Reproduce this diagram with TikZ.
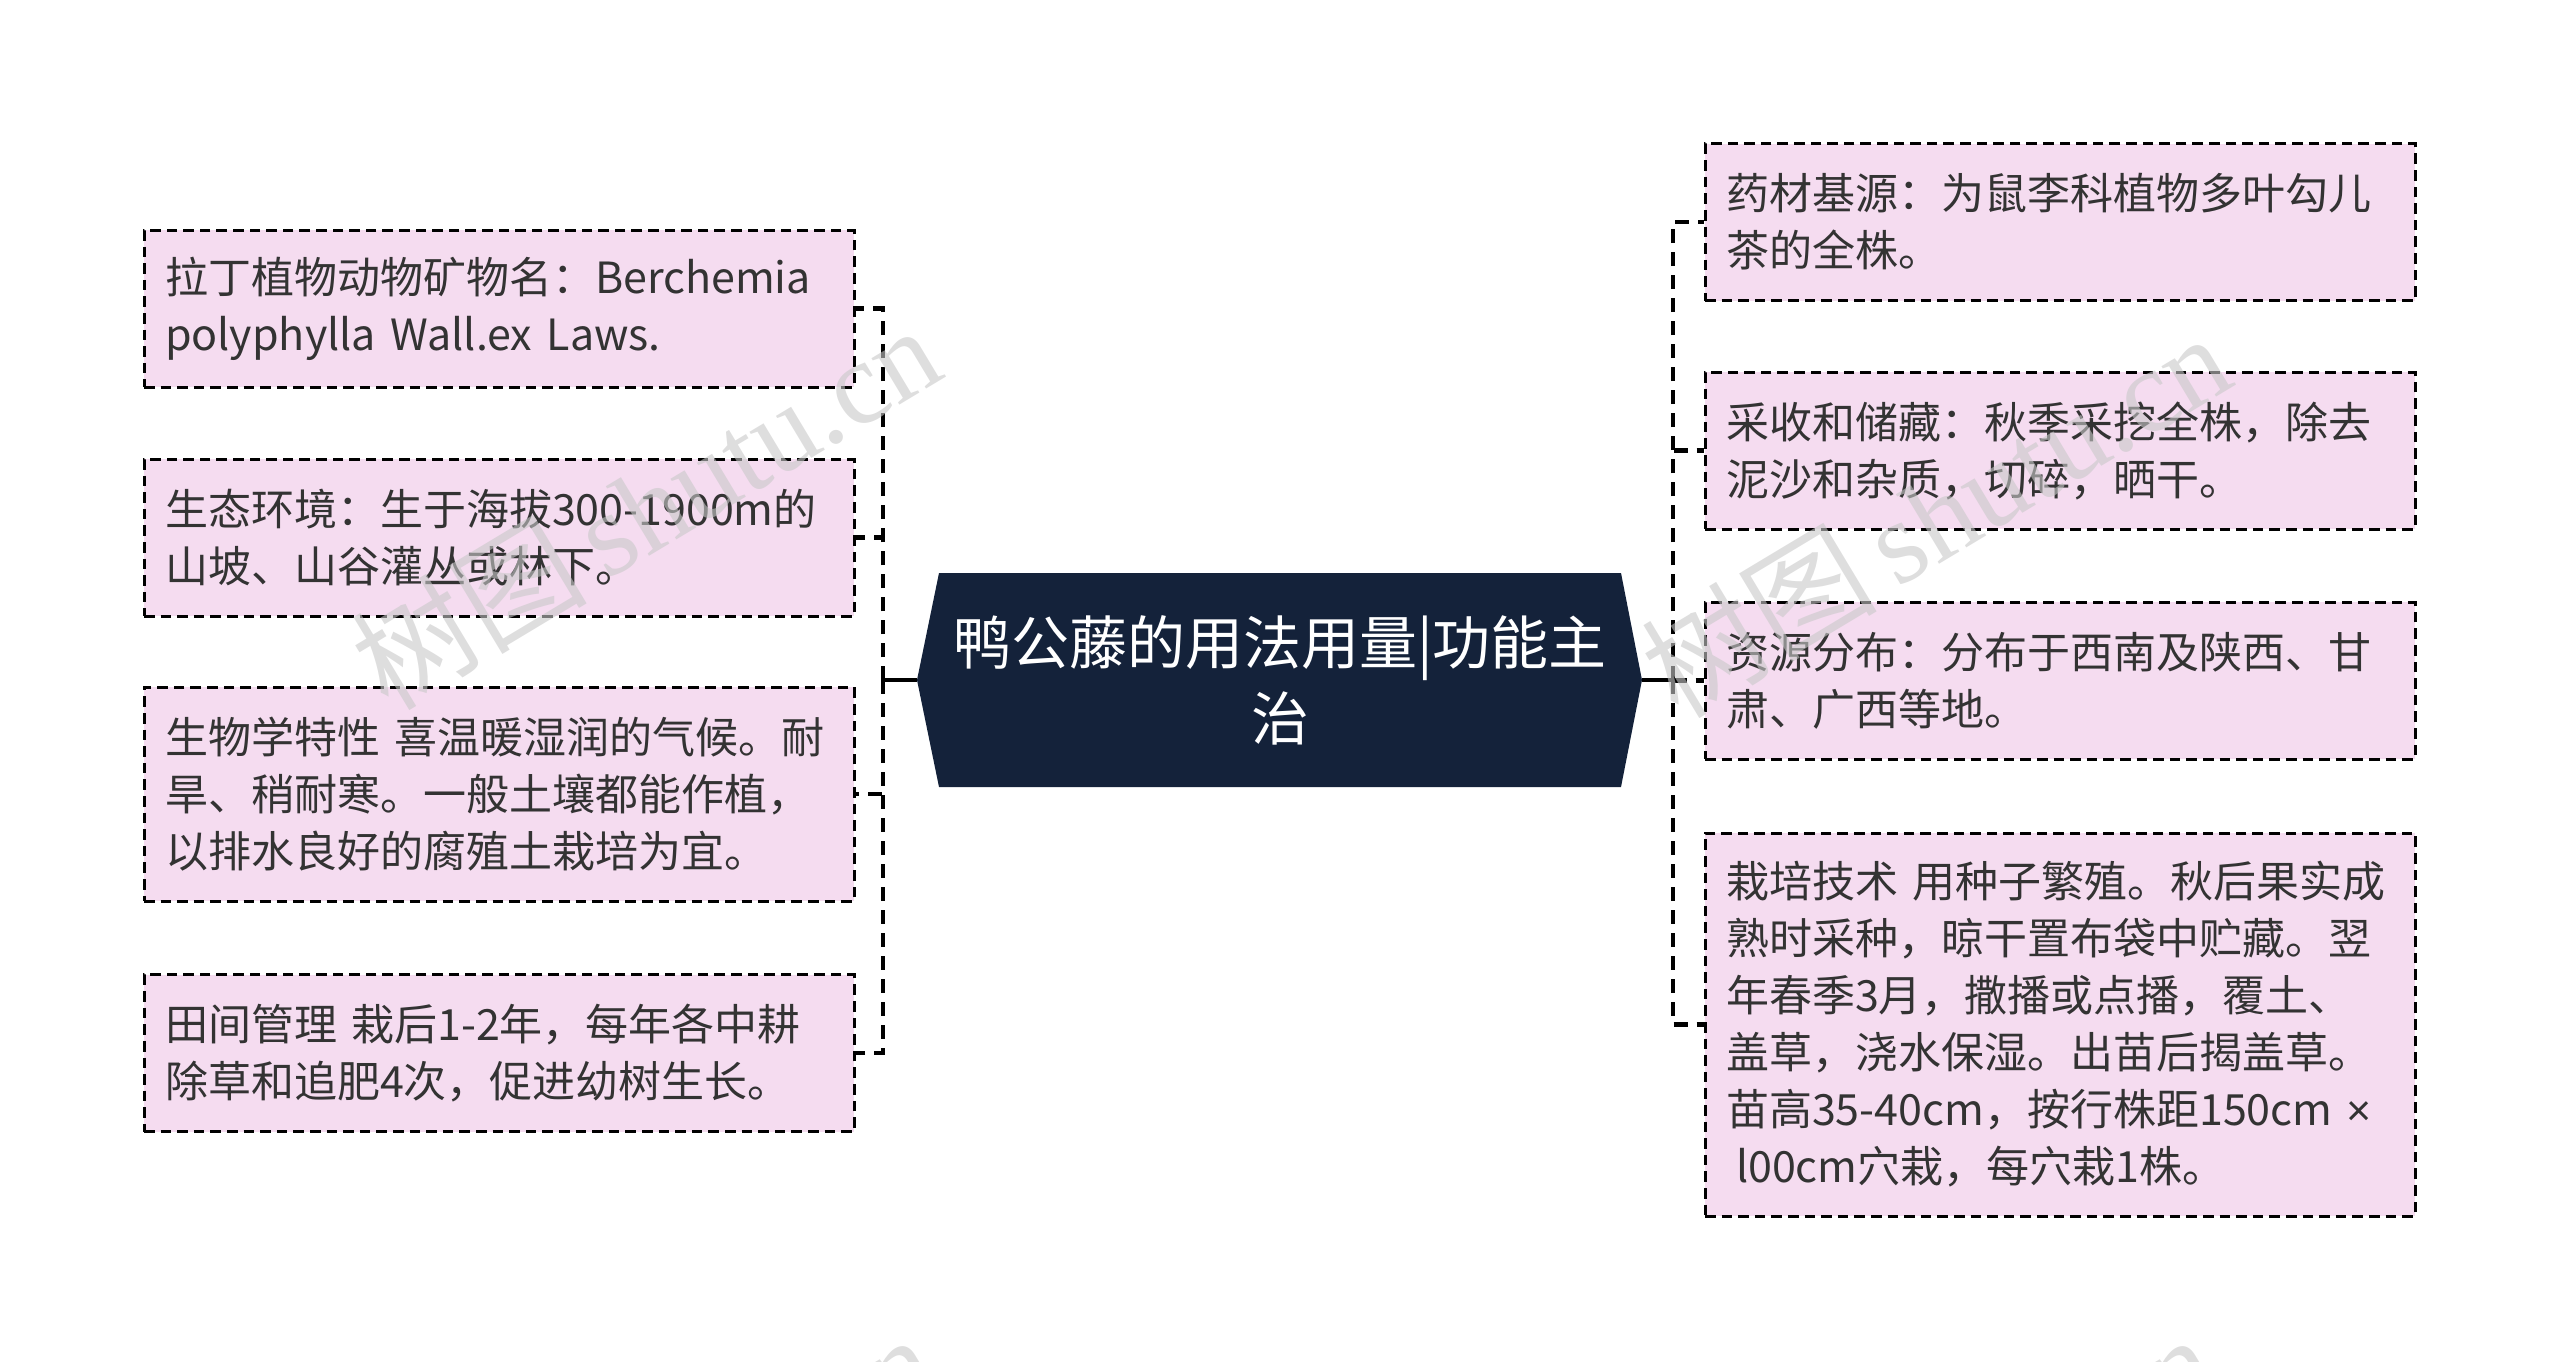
\documentclass[tikz,border=0pt]{standalone}
\usepackage{fontspec}
\setmainfont{Noto Sans CJK SC}
\newfontfamily\wmfont{Liberation Serif}
\newfontfamily\wmcjk{Noto Sans CJK SC}
\newfontfamily\latinsans{Liberation Sans}
\definecolor{boxfill}{HTML}{F5DCF0}
\definecolor{navy}{HTML}{14223A}
\definecolor{txt}{HTML}{333333}
\definecolor{wm}{HTML}{C8C8C8}
\begin{document}
\begin{tikzpicture}[x=0.5pt,y=-0.5pt,
  leaf/.style={draw=black, line width=1.5pt, dash pattern=on 5.3pt off 3pt, fill=boxfill,
    text=txt, font=\fontsize{21.5}{28.5}\selectfont, align=left,
    text width=334pt, inner xsep=10.5pt, inner ysep=0pt, minimum width=355pt},
  h2/.style={minimum height=78.5pt},
  conn/.style={draw=black, line width=2.2pt, dash pattern=on 7pt off 4.5pt},
  wmark/.style={text=wm, text opacity=0.6, rotate=31, font=\fontsize{59}{59}\selectfont}
]
\useasboundingbox (0,0) rectangle (2560,1361);
% centre
\fill[navy] (939,573) -- (1621,573) -- (1642,680) -- (1621,787) -- (939,787) -- (917,680) -- cycle;
\node[text=white, align=center, font=\fontsize{29}{38}\selectfont] (c) at (1280,680) {鸭公藤的用法用量|功能主\\治};
\coordinate (cl) at (917,680);
\coordinate (cr) at (1642,680);
\coordinate (jl) at (883,680);
\coordinate (jr) at (1673,680);
% left leaves
\node[leaf,h2] (L1) at (499,308.5) {拉丁植物动物矿物名：Berchemia\\polyphylla~Wall.ex~Laws.};
\node[leaf,h2] (L2) at (499,537.5) {生态环境：生于海拔300-1900m的\\山坡、山谷灌丛或林下。};
\node[leaf,minimum height=107pt] (L3) at (499,794) {生物学特性~喜温暖湿润的气候。耐\\旱、稍耐寒。一般土壤都能作植，\\以排水良好的腐殖土栽培为宜。};
\node[leaf,h2] (L4) at (499,1053) {田间管理~栽后1-2年，每年各中耕\\除草和追肥4次，促进幼树生长。};
% right leaves
\node[leaf,h2] (R1) at (2060,222) {药材基源：为鼠李科植物多叶勾儿\\茶的全株。};
\node[leaf,h2] (R2) at (2060,450.5) {采收和储藏：秋季采挖全株，除去\\泥沙和杂质，切碎，晒干。};
\node[leaf,h2] (R3) at (2060,680.5) {资源分布：分布于西南及陕西、甘\\肃、广西等地。};
\node[leaf,minimum height=191.5pt] (R4) at (2060,1024.5) {栽培技术~用种子繁殖。秋后果实成\\熟时采种，晾干置布袋中贮藏。翌\\年春季3月，撒播或点播，覆土、\\盖草，浇水保湿。出苗后揭盖草。\\苗高35-40cm，按行株距150cm~{\latinsans ×}\\\hspace*{5pt}l00cm穴栽，每穴栽1株。};
% connectors
\draw[line width=2.2pt] (cl) -- (jl);
\draw[line width=2.2pt] (cr) -- (jr);
\draw[conn] (jl) |- (L1.east);
\draw[conn] (jl) |- (L2.east);
\draw[conn] (jl) |- (L3.east);
\draw[conn] (jl) |- (L4.east);
\draw[conn] (jr) |- (R1.west);
\draw[conn] (jr) |- (R2.west);
\draw[conn] (jr) |- (R3.west);
\draw[conn] (jr) |- (R4.west);
% watermarks
\node[wmark] (w1) at (645,506) {\wmcjk 树图\,\wmfont shutu.cn};
\node[wmark] (w2) at (1935,514) {\wmcjk 树图\,\wmfont shutu.cn};
\node[wmark] (w3) at (640,1515) {\wmcjk 树图\,\wmfont shutu.cn};
\node[wmark] (w4) at (1920,1515) {\wmcjk 树图\,\wmfont shutu.cn};
\end{tikzpicture}
\end{document}
